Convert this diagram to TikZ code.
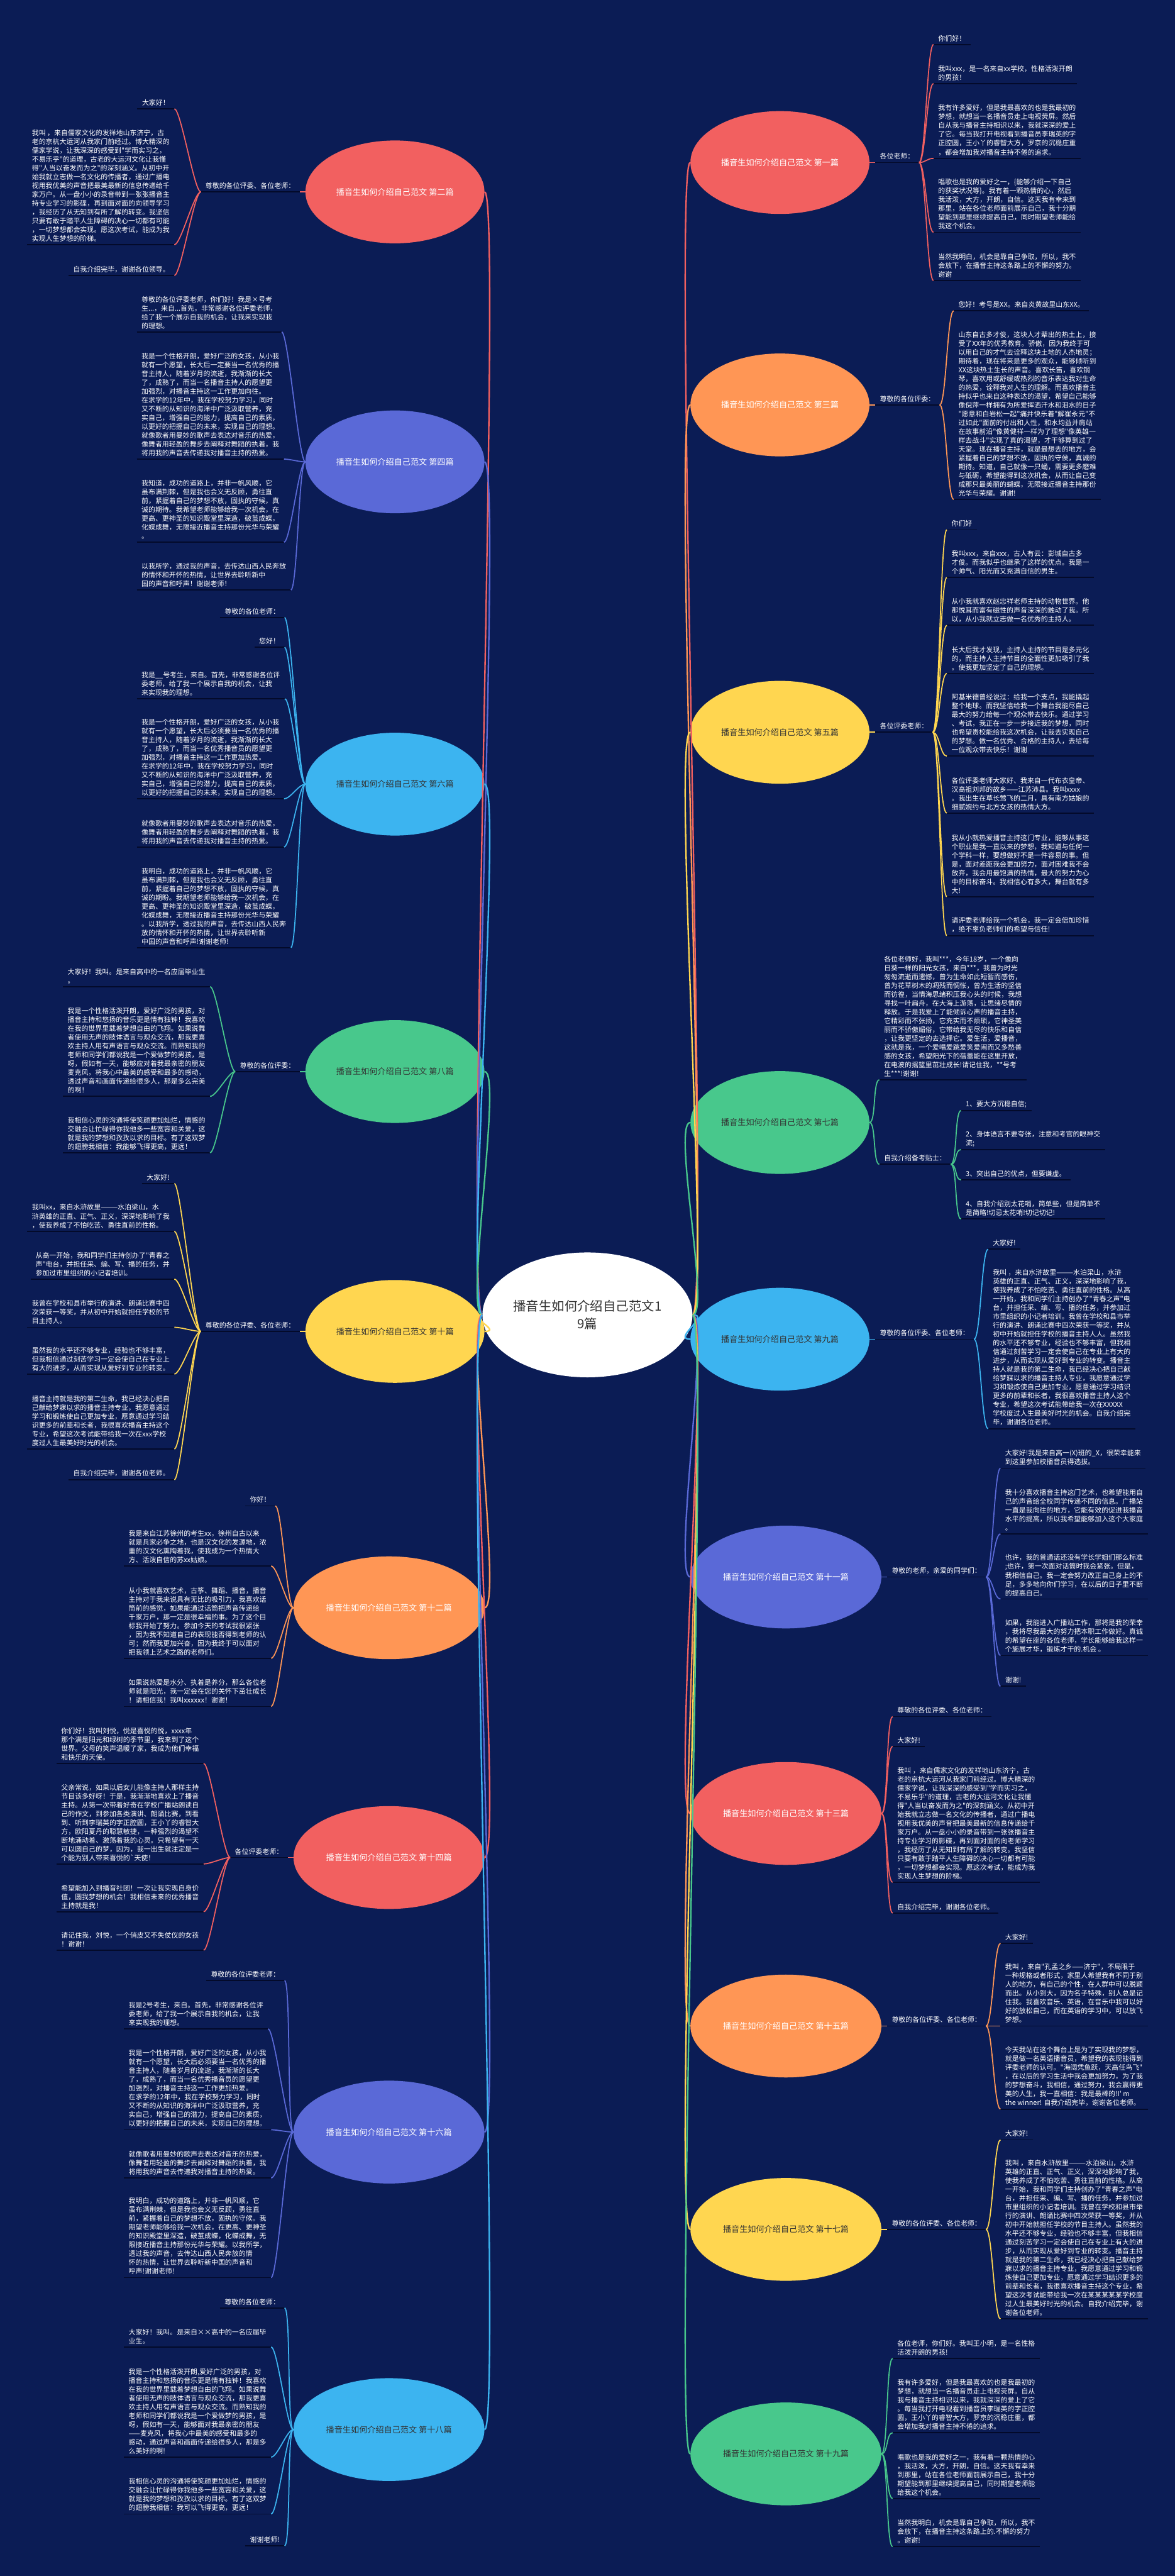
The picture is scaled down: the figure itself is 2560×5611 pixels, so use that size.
\documentclass[tikz,border=0pt]{standalone}
\usepackage{fontspec}
\newfontfamily\cjk{Noto Sans CJK SC}
\XeTeXlinebreaklocale "zh"
\usetikzlibrary{shapes.geometric,positioning,calc}
\definecolor{bgnavy}{RGB}{11,28,85}
\definecolor{ulinecol}{RGB}{3,10,42}
\definecolor{cred}{RGB}{242,96,96}
\definecolor{corange}{RGB}{255,150,85}
\definecolor{cyellow}{RGB}{255,214,80}
\definecolor{cgreen}{RGB}{72,200,140}
\definecolor{cblue}{RGB}{60,180,240}
\definecolor{cindigo}{RGB}{90,105,215}
\definecolor{darktext}{RGB}{51,51,51}

\begin{document}
\begin{tikzpicture}[x=0.5pt, y=-0.5pt,
    hub/.style={ellipse, fill=white, minimum width=217pt, minimum height=136pt,
                inner sep=0pt, align=center, text=darktext,
                font=\cjk\fontsize{14}{19}\selectfont},
    pian/.style={ellipse, fill=#1, minimum height=112pt, inner sep=0pt,
                 font=\cjk\fontsize{9}{11}\selectfont},
    short/.style={minimum width=195pt},
    long/.style={minimum width=208pt},
    uline/.style={draw=ulinecol, line width=1.2pt},
    leaf/.style={inner xsep=5pt, inner ysep=3pt, align=left, text=white,
                 font=\cjk\fontsize{7.5}{9.6}\selectfont,
                 append after command={\pgfextra{\let\leafnode=\tikzlastnode}
                   (\leafnode.south west) edge[uline] (\leafnode.south east)}},
    limb/.style={line width=1.6pt},
    twig/.style={line width=1.2pt},
    rlimb/.style={to path={.. controls +(40,0) and +(-40,0) .. (\tikztotarget)}},
    llimb/.style={to path={.. controls +(-40,0) and +(40,0) .. (\tikztotarget)}},
    rtwig/.style={to path={.. controls +(14,0) and +(-14,0) .. (\tikztotarget)}},
    ltwig/.style={to path={.. controls +(-14,0) and +(14,0) .. (\tikztotarget)}},
]
\useasboundingbox (0,0) rectangle (2560,5611);
\fill[bgnavy] (0,0) rectangle (2560,5611);

% centre
\node[hub] (hub) at (1280,2864) {播音生如何介绍自己范文1\\9篇};

% branches on the right
\node[pian=cred, short, text=white, anchor=west] (p1) at (1504,354) {播音生如何介绍自己范文 第一篇};
\node[pian=corange, short, text=white, anchor=west] (p3) at (1504,882) {播音生如何介绍自己范文 第三篇};
\node[pian=cyellow, short, text=darktext, anchor=west] (p5) at (1504,1595) {播音生如何介绍自己范文 第五篇};
\node[pian=cgreen, short, text=darktext, anchor=west] (p7) at (1504,2445) {播音生如何介绍自己范文 第七篇};
\node[pian=cblue, short, text=darktext, anchor=west] (p9) at (1504,2917) {播音生如何介绍自己范文 第九篇};
\node[pian=cindigo, long, text=white, anchor=west] (p11) at (1504,3435) {播音生如何介绍自己范文 第十一篇};
\node[pian=cred, long, text=white, anchor=west] (p13) at (1504,3950) {播音生如何介绍自己范文 第十三篇};
\node[pian=corange, long, text=white, anchor=west] (p15) at (1504,4413) {播音生如何介绍自己范文 第十五篇};
\node[pian=cyellow, long, text=darktext, anchor=west] (p17) at (1504,4856) {播音生如何介绍自己范文 第十七篇};
\node[pian=cgreen, long, text=darktext, anchor=west] (p19) at (1504,5345) {播音生如何介绍自己范文 第十九篇};

% branches on the left
\node[pian=cred, short, text=white, anchor=east] (p2) at (1056,418) {播音生如何介绍自己范文 第二篇};
\node[pian=cindigo, short, text=white, anchor=east] (p4) at (1056,1006) {播音生如何介绍自己范文 第四篇};
\node[pian=cblue, short, text=darktext, anchor=east] (p6) at (1056,1708) {播音生如何介绍自己范文 第六篇};
\node[pian=cgreen, short, text=darktext, anchor=east] (p8) at (1056,2334) {播音生如何介绍自己范文 第八篇};
\node[pian=cyellow, short, text=darktext, anchor=east] (p10) at (1056,2900) {播音生如何介绍自己范文 第十篇};
\node[pian=corange, long, text=white, anchor=east] (p12) at (1056,3502) {播音生如何介绍自己范文 第十二篇};
\node[pian=cred, long, text=white, anchor=east] (p14) at (1056,4046) {播音生如何介绍自己范文 第十四篇};
\node[pian=cindigo, long, text=white, anchor=east] (p16) at (1056,4644) {播音生如何介绍自己范文 第十六篇};
\node[pian=cblue, long, text=darktext, anchor=east] (p18) at (1056,5292) {播音生如何介绍自己范文 第十八篇};

% limbs from the centre
\foreach \n/\c in {p1/cred,p3/corange,p5/cyellow,p7/cgreen,p9/cblue,p11/cindigo,
                   p13/cred,p15/corange,p17/cyellow,p19/cgreen}
  \draw[limb,\c] (hub.east) to[rlimb] (\n.west);
\foreach \n/\c in {p2/cred,p4/cindigo,p6/cblue,p8/cgreen,p10/cyellow,p12/corange,
                   p14/cred,p16/cindigo,p18/cblue}
  \draw[limb,\c] (hub.west) to[llimb] (\n.east);

% ---------- 第一篇
\node[leaf, anchor=south west] (p1lab) at ($(p1.east)+(12,0)$) {各位老师：};
\node[leaf, anchor=south west] (p1a) at (2034,97) {你们好！};
\node[leaf, anchor=south west] (p1b) at (2034,182) {我叫xxx，是一名来自xx学校，性格活泼开朗\\的男孩！};
\node[leaf, anchor=south west] (p1c) at (2034,345) {我有许多爱好，但是我最喜欢的也是我最初的\\梦想，就想当一名播音员走上电视荧屏。然后\\自从我与播音主持相识以来，我就深深的爱上\\了它。每当我打开电视看到播音员李瑞英的字\\正腔圆，王小丫的睿智大方，罗京的沉稳庄重\\，都会增加我对播音主持不倦的追求。};
\node[leaf, anchor=south west] (p1d) at (2034,506) {唱歌也是我的爱好之一，\{能够介绍一下自己\\的获奖状况等\}。我有着一颗热情的心，然后\\我活泼，大方，开朗，自信。这天我有幸来到\\那里，站在各位老师面前展示自己，我十分期\\望能到那里继续提高自己，同时期望老师能给\\我这个机会。};
\node[leaf, anchor=south west] (p1e) at (2034,611) {当然我明白，机会是靠自己争取，所以，我不\\会放下，在播音主持这条路上的不懈的努力。\\谢谢};
\draw[twig,cred] (p1.east) -- (p1lab.south west);
\foreach \k in {a,b,c,d,e}
  \draw[twig,cred] (p1lab.south east) to[rtwig] (p1\k.south west);

% ---------- 第三篇
\node[leaf, anchor=south west] (p3lab) at ($(p3.east)+(12,0)$) {尊敬的各位评委：};
\node[leaf, anchor=south west] (p3a) at (2078,677) {您好！考号是XX。来自炎黄故里山东XX。};
\node[leaf, anchor=south west] (p3b) at (2078,1088) {山东自古多才俊，这块人才辈出的热土上，接\\受了XX年的优秀教育。骄傲，因为我终于可\\以用自己的才气去诠释这块土地的人杰地灵；\\期待着，现在将来是更多的观众，能够倾听到\\XX这块热土生长的声音。喜欢长笛，喜欢钢\\琴，喜欢用或舒缓或热烈的音乐表达我对生命\\的热爱，诠释我对人生的理解。而喜欢播音主\\持似乎也来自这种表达的渴望，希望自己能够\\像倪萍一样拥有为所爱挥洒汗水和泪水的日子\\"愿意和白岩松一起"痛并快乐着"解崔永元"不\\过如此"面前的付出和人性，和水均益并肩站\\在故事前沿"像黄健祥一样为了理想"像英雄一\\样去战斗"实现了真的渴望，才干够算到过了\\天堂。现在播音主持，就是最想去的地方，会\\紧握着自己的梦想不放，固执的守侯，真诚的\\期待。知道，自己就像一只蛹，需要更多磨难\\与砥砺，希望能得到这次机会，从而让自己变\\成那只最美丽的蝴蝶，无限接近播音主持那份\\光华与荣耀。谢谢!};
\draw[twig,corange] (p3.east) -- (p3lab.south west);
\foreach \k in {a,b}
  \draw[twig,corange] (p3lab.south east) to[rtwig] (p3\k.south west);

% ---------- 第五篇
\node[leaf, anchor=south west] (p5lab) at ($(p5.east)+(12,0)$) {各位评委老师：};
\node[leaf, anchor=south west] (p5a) at (2063,1154) {你们好};
\node[leaf, anchor=south west] (p5b) at (2063,1258) {我叫xxx，来自xxx，古人有云：彭城自古多\\才俊。而我似乎也继承了这样的优点。我是一\\个帅气、阳光而又充满自信的男生。};
\node[leaf, anchor=south west] (p5c) at (2063,1362) {从小我就喜欢赵忠祥老师主持的动物世界。他\\那悦耳而富有磁性的声音深深的触动了我。所\\以，从小我就立志做一名优秀的主持人。};
\node[leaf, anchor=south west] (p5d) at (2063,1467) {长大后我才发现，主持人主持的节目是多元化\\的，而主持人主持节目的全面性更加吸引了我\\。使我更加坚定了自己的理想。};
\node[leaf, anchor=south west] (p5e) at (2063,1647) {阿基米德曾经说过：给我一个支点，我能撬起\\整个地球。而我坚信给我一个舞台我能尽自己\\最大的努力给每一个观众带去快乐。通过学习\\、考试，我正在一步一步接近我的梦想，同时\\也希望贵校能给我这次机会，让我去实现自己\\的梦想。做一名优秀、合格的主持人，去给每\\一位观众带去快乐！谢谢};
\node[leaf, anchor=south west] (p5f) at (2063,1771) {各位评委老师大家好、我来自一代布衣皇帝、\\汉高祖刘邦的故乡——江苏沛县。我叫xxxx\\。我出生在草长莺飞的二月，具有南方姑娘的\\细腻婉约与北方女孩的热情大方。};
\node[leaf, anchor=south west] (p5g) at (2063,1953) {我从小就热爱播音主持这门专业，能够从事这\\个职业是我一直以来的梦想，我知道与任何一\\个学科一样，要想做好不是一件容易的事。但\\是，面对差距我会更加努力，面对困难我不会\\放弃，我会用最饱满的热情，最大的努力为心\\中的目标奋斗。我相信心有多大，舞台就有多\\大!};
\node[leaf, anchor=south west] (p5h) at (2063,2038) {请评委老师给我一个机会，我一定会倍加珍惜\\，绝不辜负老师们的希望与信任!};
\draw[twig,cyellow] (p5.east) -- (p5lab.south west);
\foreach \k in {a,b,c,d,e,f,g,h}
  \draw[twig,cyellow] (p5lab.south east) to[rtwig] (p5\k.south west);

% ---------- 第七篇
\node[leaf, anchor=south west] (p7a) at (1916,2352) {各位老师好，我叫***，今年18岁，一个像向\\日葵一样的阳光女孩，来自***，我曾为时光\\匆匆流逝而遗憾，曾为生命如此短暂而感伤，\\曾为花草树木的凋残而惆怅，曾为生活的坚信\\而彷徨，当情海思绪积压我心头的时候，我想\\寻找一叶扁舟，在大海上游荡，让思绪尽情的\\释放。于是我爱上了能倾诉心声的播音主持，\\它精彩而不张扬，它充实而不烦琐，它神圣美\\丽而不骄傲媚俗，它带给我无尽的快乐和自信\\，让我更坚定的去选择它。爱生活，爱播音，\\这就是我，一个爱唱爱跳爱笑爱闹而又多愁善\\感的女孩，希望阳光下的蓓蕾能在这里开放，\\在电波的摇篮里茁壮成长!请记住我，**号考\\生***!谢谢!};
\node[leaf, anchor=south west] (p7b) at (1916,2536) {自我介绍备考贴士：};
\node[leaf, anchor=south west] (p7b1) at (2094,2419) {1、要大方沉稳自信;};
\node[leaf, anchor=south west] (p7b2) at (2094,2504) {2、身体语言不要夸张，注意和考官的眼神交\\流;};
\node[leaf, anchor=south west] (p7b3) at (2094,2570) {3、突出自己的优点，但要谦虚。};
\node[leaf, anchor=south west] (p7b4) at (2094,2655) {4、自我介绍别太花哨，简单些，但是简单不\\是简略!切忌太花哨!切记切记!};
\foreach \k in {a,b}
  \draw[twig,cgreen] (p7.east) to[rtwig] (p7\k.south west);
\foreach \k in {1,2,3,4}
  \draw[twig,cgreen] (p7b.south east) to[rtwig] (p7b\k.south west);

% ---------- 第九篇
\node[leaf, anchor=south west] (p9lab) at ($(p9.east)+(12,0)$) {尊敬的各位评委、各位老师：};
\node[leaf, anchor=south west] (p9a) at (2153,2721) {大家好!};
\node[leaf, anchor=south west] (p9b) at (2153,3112) {我叫 ，来自水浒故里———水泊梁山，水浒\\英雄的正直、正气、正义，深深地影响了我，\\使我养成了不怕吃苦、勇往直前的性格。从高\\一开始，我和同学们主持创办了"青春之声"电\\台，并担任采、编、写、播的任务，并参加过\\市里组织的小记者培训。我曾在学校和县市举\\行的演讲、朗诵比赛中四次荣获一等奖，并从\\初中开始就担任学校的播音主持人人。虽然我\\的水平还不够专业，经验也不够丰富，但我相\\信通过刻苦学习一定会使自己在专业上有大的\\进步，从而实现从爱好到专业的转变。播音主\\持人就是我的第二生命，我已经决心把自己献\\给梦寐以求的播音主持人专业，我愿意通过学\\习和锻炼使自己更加专业，愿意通过学习结识\\更多的前辈和长者，我很喜欢播音主持人这个\\专业，希望这次考试能带给我一次在XXXXX\\学校度过人生最美好时光的机会。自我介绍完\\毕，谢谢各位老师。};
\draw[twig,cblue] (p9.east) -- (p9lab.south west);
\foreach \k in {a,b}
  \draw[twig,cblue] (p9lab.south east) to[rtwig] (p9\k.south west);

% ---------- 第十一篇
\node[leaf, anchor=south west] (p11lab) at ($(p11.east)+(12,0)$) {尊敬的老师，亲爱的同学们：};
\node[leaf, anchor=south west] (p11a) at (2180,3198) {大家好!我是来自高一(X)班的\_X，很荣幸能来\\到这里参加校播音员得选拔。};
\node[leaf, anchor=south west] (p11b) at (2180,3341) {我十分喜欢播音主持这门艺术，也希望能用自\\己的声音给全校同学传递不同的信息。广播站\\一直是我向往的地方，它能有效的促进我播音\\水平的提高，所以我希望能够加入这个大家庭\\。};
\node[leaf, anchor=south west] (p11c) at (2180,3483) {也许，我的普通话还没有学长学姐们那么标准\\;也许，第一次面对话筒时我会紧张。但是，\\我相信自己。我一定会努力改正自己身上的不\\足，多多地向你们学习，在以后的日子里不断\\的提高自己。};
\node[leaf, anchor=south west] (p11d) at (2180,3606) {如果，我能进入广播站工作，那将是我的荣幸\\，我将尽我最大的努力把本职工作做好。真诚\\的希望在座的各位老师，学长能够给我这样一\\个施展才华，锻炼才干的.机会 。};
\node[leaf, anchor=south west] (p11e) at (2180,3673) {谢谢!};
\draw[twig,cindigo] (p11.east) -- (p11lab.south west);
\foreach \k in {a,b,c,d,e}
  \draw[twig,cindigo] (p11lab.south east) to[rtwig] (p11\k.south west);

% ---------- 第十三篇
\node[leaf, anchor=south west] (p13a) at (1945,3739) {尊敬的各位评委、各位老师：};
\node[leaf, anchor=south west] (p13b) at (1945,3804) {大家好!};
\node[leaf, anchor=south west] (p13c) at (1945,4100) {我叫 ，来自儒家文化的发祥地山东济宁，古\\老的京杭大运河从我家门前经过。博大精深的\\儒家学说，让我深深的感受到"学而实习之，\\不易乐乎"的道理，古老的大运河文化让我懂\\得"人当以奋发而为之"的深刻涵义。从初中开\\始我就立志做一名文化的传播者，通过广播电\\视用我优美的声音把最美最新的信息传递给千\\家万户。从一盘小小的录音带到一张张播音主\\持专业学习的影碟，再到面对面的向老师学习\\，我经历了从无知到有所了解的转变。我坚信\\只要有敢于踏平人生障碍的决心一切都有可能\\，一切梦想都会实现。愿这次考试，能成为我\\实现人生梦想的阶梯。};
\node[leaf, anchor=south west] (p13d) at (1945,4167) {自我介绍完毕，谢谢各位老师。};
\foreach \k in {a,b,c,d}
  \draw[twig,cred] (p13.east) to[rtwig] (p13\k.south west);

% ---------- 第十五篇
\node[leaf, anchor=south west] (p15lab) at ($(p15.east)+(12,0)$) {尊敬的各位评委、各位老师：};
\node[leaf, anchor=south west] (p15a) at (2180,4233) {大家好!};
\node[leaf, anchor=south west] (p15b) at (2180,4413) {我叫 ，来自"孔孟之乡——济宁"，不局限于\\一种规格或者形式，家里人希望我有不同于别\\人的地方，有自己的个性，在人群中可以脱颖\\而出。从小到大，因为名子特殊，别人总是记\\住我。我喜欢音乐、英语，在音乐中我可以好\\好的放松自己，而在英语的学习中，可以放飞\\梦想。};
\node[leaf, anchor=south west] (p15c) at (2180,4594) {今天我站在这个舞台上是为了实现我的梦想，\\就是做一名英语播音员，希望我的表现能得到\\评委老师的认可。"海阔凭鱼跃，天高任鸟飞"\\，在以后的学习生活中我会更加努力，为了我\\的梦想奋斗，我相信，通过努力，我会赢得更\\美的人生，我一直相信：我是最棒的!I' m\\the winner! 自我介绍完毕，谢谢各位老师。};
\draw[twig,corange] (p15.east) -- (p15lab.south west);
\foreach \k in {a,b,c}
  \draw[twig,corange] (p15lab.south east) to[rtwig] (p15\k.south west);

% ---------- 第十七篇
\node[leaf, anchor=south west] (p17lab) at ($(p17.east)+(12,0)$) {尊敬的各位评委、各位老师：};
\node[leaf, anchor=south west] (p17a) at (2180,4661) {大家好!};
\node[leaf, anchor=south west] (p17b) at (2180,5051) {我叫 ，来自水浒故里———水泊梁山，水浒\\英雄的正直、正气、正义，深深地影响了我，\\使我养成了不怕吃苦、勇往直前的性格。从高\\一开始，我和同学们主持创办了"青春之声"电\\台，并担任采、编、写、播的任务，并参加过\\市里组织的小记者培训。我曾在学校和县市举\\行的演讲、朗诵比赛中四次荣获一等奖，并从\\初中开始就担任学校的节目主持人。虽然我的\\水平还不够专业，经验也不够丰富，但我相信\\通过刻苦学习一定会使自己在专业上有大的进\\步，从而实现从爱好到专业的转变。播音主持\\就是我的第二生命，我已经决心把自己献给梦\\寐以求的播音主持专业，我愿意通过学习和锻\\炼使自己更加专业，愿意通过学习结识更多的\\前辈和长者，我很喜欢播音主持这个专业，希\\望这次考试能带给我一次在某某某某某学校度\\过人生最美好时光的机会。自我介绍完毕，谢\\谢各位老师。};
\draw[twig,cyellow] (p17.east) -- (p17lab.south west);
\foreach \k in {a,b}
  \draw[twig,cyellow] (p17lab.south east) to[rtwig] (p17\k.south west);

% ---------- 第十九篇
\node[leaf, anchor=south west] (p19a) at (1945,5137) {各位老师，你们好。我叫王小明，是一名性格\\活泼开朗的男孩!};
\node[leaf, anchor=south west] (p19b) at (1945,5299) {我有许多爱好，但是我最喜欢的也是我最初的\\梦想，就想当一名播音员走上电视荧屏。自从\\我与播音主持相识以来，我就深深的爱上了它\\。每当我打开电视看到播音员李瑞英的字正腔\\圆，王小丫的睿智大方，罗京的沉稳庄重，都\\会增加我对播音主持不倦的追求。};
\node[leaf, anchor=south west] (p19c) at (1945,5442) {唱歌也是我的爱好之一，我有着一颗热情的心\\，我活泼，大方，开朗，自信。这天我有幸来\\到那里，站在各位老师面前展示自己，我十分\\期望能到那里继续提高自己，同时期望老师能\\给我这个机会。};
\node[leaf, anchor=south west] (p19d) at (1945,5547) {当然我明白，机会是靠自己争取，所以，我不\\会放下，在播音主持这条路上的.不懈的努力\\。谢谢!};
\foreach \k in {a,b,c,d}
  \draw[twig,cgreen] (p19.east) to[rtwig] (p19\k.south west);

% ---------- 第二篇
\node[leaf, anchor=south east] (p2lab) at ($(p2.west)+(-12,0)$) {尊敬的各位评委、各位老师：};
\node[leaf, anchor=south east] (p2a) at (380,237) {大家好！};
\node[leaf, anchor=south east] (p2b) at (380,533) {我叫 ，来自儒家文化的发祥地山东济宁，古\\老的京杭大运河从我家门前经过。博大精深的\\儒家学说，让我深深的感受到"学而实习之，\\不易乐乎"的道理，古老的大运河文化让我懂\\得"人当以奋发而为之"的深刻涵义。从初中开\\始我就立志做一名文化的传播者，通过广播电\\视用我优美的声音把最美最新的信息传递给千\\家万户。从一盘小小的录音带到一张张播音主\\持专业学习的影碟，再到面对面的向领导学习\\，我经历了从无知到有所了解的转变。我坚信\\只要有敢于踏平人生障碍的决心一切都有可能\\，一切梦想都会实现。愿这次考试，能成为我\\实现人生梦想的阶梯。};
\node[leaf, anchor=south east] (p2c) at (380,600) {自我介绍完毕，谢谢各位领导。};
\draw[twig,cred] (p2.west) -- (p2lab.south east);
\foreach \k in {a,b,c}
  \draw[twig,cred] (p2lab.south west) to[ltwig] (p2\k.south east);

% ---------- 第四篇
\node[leaf, anchor=south west] (p4a) at (298,723) {尊敬的各位评委老师，你们好！我是×号考\\生...，来自...首先，非常感谢各位评委老师，\\给了我一个展示自我的机会，让我来实现我\\的理想。};
\node[leaf, anchor=south west] (p4b) at (298,1000) {我是一个性格开朗，爱好广泛的女孩，从小我\\就有一个愿望，长大后一定要当一名优秀的播\\音主持人，随着岁月的流逝，我渐渐的长大\\了，成熟了，而当一名播音主持人的愿望更\\加强烈，对播音主持这一工作更加向往。\\在求学的12年中，我在学校努力学习，同时\\又不断的从知识的海洋中广泛汲取营养，充\\实自己，增强自己的能力，提高自己的素质，\\以更好的把握自己的未来，实现自己的理想。\\就像歌者用曼妙的歌声去表达对音乐的热爱，\\像舞者用轻盈的舞步去阐释对舞蹈的执着，我\\将用我的声音去传递我对播音主持的热爱。};
\node[leaf, anchor=south west] (p4c) at (298,1181) {我知道，成功的道路上，并非一帆风顺，它\\虽布满荆棘，但是我也会义无反顾，勇往直\\前，紧握着自己的梦想不放，固执的守候，真\\诚的期待。我希望老师能够给我一次机会，在\\更高、更神圣的知识殿堂里深造，破茧成蝶，\\化蝶成舞，无限接近播音主持那份光华与荣耀\\。};
\node[leaf, anchor=south west] (p4d) at (298,1285) {以我所学，通过我的声音，去传达山西人民奔放\\的情怀和开怀的热情，让世界去聆听新中\\国的声音和呼声！谢谢老师！};
\foreach \k in {a,b,c,d}
  \draw[twig,cindigo] (p4.west) to[ltwig] (p4\k.south east);

% ---------- 第六篇
\node[leaf, anchor=south east] (p6a) at (620,1345) {尊敬的各位老师：};
\node[leaf, anchor=south east] (p6b) at (620,1410) {您好！};
\node[leaf, anchor=south west] (p6c) at (298,1522) {我是\_\_号考生，来自。首先，非常感谢各位评\\委老师，给了我一个展示自我的机会，让我\\来实现我的理想。};
\node[leaf, anchor=south west] (p6d) at (298,1740) {我是一个性格开朗，爱好广泛的女孩，从小我\\就有一个愿望，长大后必须要当一名优秀的播\\音主持人，随着岁月的流逝，我渐渐的长大\\了，成熟了，而当一名优秀播音员的愿望更\\加强烈，对播音主持这一工作更加热爱。\\在求学的12年中，我在学校努力学习，同时\\又不断的从知识的海洋中广泛汲取营养，充\\实自己，增强自己的潜力，提高自己的素质，\\以更好的把握自己的未来，实现自己的理想。};
\node[leaf, anchor=south west] (p6e) at (298,1845) {就像歌者用曼妙的歌声去表达对音乐的热爱，\\像舞者用轻盈的舞步去阐释对舞蹈的执着，我\\将用我的声音去传递我对播音主持的热爱。};
\node[leaf, anchor=south west] (p6f) at (298,2064) {我明白，成功的道路上，并非一帆风顺，它\\虽布满荆棘，但是我也会义无反顾，勇往直\\前，紧握着自己的梦想不放，固执的守候，真\\诚的期盼。我期望老师能够给我一次机会，在\\更高、更神圣的知识殿堂里深造，破茧成蝶，\\化蝶成舞，无限接近播音主持那份光华与荣耀\\。以我所学，透过我的声音，去传达山西人民奔\\放的情怀和开怀的热情，让世界去聆听新\\中国的声音和呼声!谢谢老师!};
\foreach \k in {a,b,c,d,e,f}
  \draw[twig,cblue] (p6.west) to[ltwig] (p6\k.south east);

% ---------- 第八篇
\node[leaf, anchor=south east] (p8lab) at ($(p8.west)+(-12,0)$) {尊敬的各位评委：};
\node[leaf, anchor=south west] (p8a) at (137,2149) {大家好！我叫。是来自高中的一名应届毕业生\\。};
\node[leaf, anchor=south west] (p8b) at (137,2388) {我是一个性格活泼开朗，爱好广泛的男孩，对\\播音主持和悠扬的音乐更是情有独钟！我喜欢\\在我的世界里载着梦想自由的飞翔。如果说舞\\者使用无声的肢体语言与观众交流，那我更喜\\欢主持人用有声语言与观众交流。而熟知我的\\老师和同学们都说我是一个爱做梦的男孩，是\\呀，假如有一天，能够应对着我最亲密的朋友\\麦克风，将我心中最美的感受和最多的感动，\\透过声音和画面传递给很多人，那是多么完美\\的啊！};
\node[leaf, anchor=south west] (p8c) at (137,2511) {我相信心灵的沟通将使笑颜更加灿烂，情感的\\交融会让忙碌得你我他多一些宽容和关爱，这\\就是我的梦想和孜孜以求的目标。有了这双梦\\的翅膀我相信：我能够飞得更高，更远！};
\draw[twig,cgreen] (p8.west) -- (p8lab.south east);
\foreach \k in {a,b,c}
  \draw[twig,cgreen] (p8lab.south west) to[ltwig] (p8\k.south east);

% ---------- 第十篇
\node[leaf, anchor=south east] (p10lab) at ($(p10.west)+(-12,0)$) {尊敬的各位评委、各位老师：};
\node[leaf, anchor=south east] (p10a) at (380,2578) {大家好!};
\node[leaf, anchor=south east] (p10b) at (380,2682) {我叫xx，来自水浒故里———水泊梁山，水\\浒英雄的正直、正气、正义，深深地影响了我\\，使我养成了不怕吃苦、勇往直前的性格。};
\node[leaf, anchor=south east] (p10c) at (380,2786) {从高一开始，我和同学们主持创办了"青春之\\声"电台，并担任采、编、写、播的任务，并\\参加过市里组织的小记者培训。};
\node[leaf, anchor=south east] (p10d) at (380,2891) {我曾在学校和县市举行的演讲、朗诵比赛中四\\次荣获一等奖，并从初中开始就担任学校的节\\目主持人。};
\node[leaf, anchor=south east] (p10e) at (380,2993) {虽然我的水平还不够专业，经验也不够丰富，\\但我相信通过刻苦学习一定会使自己在专业上\\有大的进步，从而实现从爱好到专业的转变。};
\node[leaf, anchor=south east] (p10f) at (380,3156) {播音主持就是我的第二生命，我已经决心把自\\己献给梦寐以求的播音主持专业，我愿意通过\\学习和锻炼使自己更加专业，愿意通过学习结\\识更多的前辈和长者，我很喜欢播音主持这个\\专业，希望这次考试能带给我一次在xxx学校\\度过人生最美好时光的机会。};
\node[leaf, anchor=south east] (p10g) at (380,3223) {自我介绍完毕，谢谢各位老师。};
\draw[twig,cyellow] (p10.west) -- (p10lab.south east);
\foreach \k in {a,b,c,d,e,f,g}
  \draw[twig,cyellow] (p10lab.south west) to[ltwig] (p10\k.south east);

% ---------- 第十二篇
\node[leaf, anchor=south east] (p12a) at (600,3280) {你好！};
\node[leaf, anchor=south west] (p12b) at (270,3411) {我是来自江苏徐州的考生xx，徐州自古以来\\就是兵家必争之地，也是汉文化的发源地，浓\\重的汉文化熏陶着我，使我成为一个热情大\\方、活泼自信的苏xx姑娘。};
\node[leaf, anchor=south west] (p12c) at (270,3612) {从小我就喜欢艺术，古筝、舞蹈、播音，播音\\主持对于我来说具有无比的吸引力，我喜欢话\\筒前的感觉，如果能通过话筒把声音传递给\\千家万户，那一定是很幸福的事。为了这个目\\标我开始了努力。参加今天的考试我很紧张\\，因为我不知道自己的表现能否得到老师的认\\可；然而我更加兴奋，因为我终于可以面对\\把我领上艺术之路的老师们。};
\node[leaf, anchor=south west] (p12d) at (270,3717) {如果说热爱是水分、执着是养分，那么各位老\\师就是阳光，我一定会在您的关怀下茁壮成长\\！请相信我！我叫xxxxxx！谢谢！};
\foreach \k in {a,b,c,d}
  \draw[twig,corange] (p12.west) to[ltwig] (p12\k.south east);

% ---------- 第十四篇
\node[leaf, anchor=south east] (p14lab) at ($(p14.west)+(-12,0)$) {各位评委老师：};
\node[leaf, anchor=south west] (p14a) at (123,3841) {你们好！我叫刘悦，悦是喜悦的悦，xxxx年\\那个满是阳光和绿树的季节里，我来到了这个\\世界。父母的笑声温暖了家，我成为他们幸福\\和快乐的天使。};
\node[leaf, anchor=south west] (p14b) at (123,4060) {父亲常说，如果以后女儿能像主持人那样主持\\节目该多好呀！于是，我渐渐地喜欢上了播音\\主持。从第一次带着好奇在学校广播站朗读自\\己的作文，到参加各类演讲、朗诵比赛，到看\\到、听到李瑞英的字正腔圆，王小丫的睿智大\\方，欧阳夏丹的聪慧敏捷，一种强烈的渴望不\\断地涌动着、激荡着我的心灵。只希望有一天\\可以圆自己的梦，因为，我一出生就注定是一\\个能为别人带来喜悦的`天使！};
\node[leaf, anchor=south west] (p14c) at (123,4164) {希望能加入到播音社团！一次让我实现自身价\\值，圆我梦想的机会！我相信未来的优秀播音\\主持就是我！};
\node[leaf, anchor=south west] (p14d) at (123,4248) {请记住我，刘悦，一个俏皮又不失仗仪的女孩\\！谢谢！};
\draw[twig,cred] (p14.west) -- (p14lab.south east);
\foreach \k in {a,b,c,d}
  \draw[twig,cred] (p14lab.south west) to[ltwig] (p14\k.south east);

% ---------- 第十六篇
\node[leaf, anchor=south east] (p16a) at (620,4314) {尊敬的各位评委老师：};
\node[leaf, anchor=south west] (p16b) at (270,4419) {我是2号考生，来自。首先，非常感谢各位评\\委老师，给了我一个展示自我的机会，让我\\来实现我的理想。};
\node[leaf, anchor=south west] (p16c) at (270,4639) {我是一个性格开朗，爱好广泛的女孩，从小我\\就有一个愿望，长大后必须要当一名优秀的播\\音主持人，随着岁月的流逝，我渐渐的长大\\了，成熟了，而当一名优秀播音员的愿望更\\加强烈，对播音主持这一工作更加热爱。\\在求学的12年中，我在学校努力学习，同时\\又不断的从知识的海洋中广泛汲取营养，充\\实自己，增强自己的潜力，提高自己的素质，\\以更好的把握自己的未来，实现自己的理想。};
\node[leaf, anchor=south west] (p16d) at (270,4744) {就像歌者用曼妙的歌声去表达对音乐的热爱，\\像舞者用轻盈的舞步去阐释对舞蹈的执着，我\\将用我的声音去传递我对播音主持的热爱。};
\node[leaf, anchor=south west] (p16e) at (270,4961) {我明白，成功的道路上，并非一帆风顺，它\\虽布满荆棘，但是我也会义无反顾，勇往直\\前，紧握着自己的梦想不放，固执的守候。我\\期望老师能够给我一次机会，在更高、更神圣\\的知识殿堂里深造，破茧成蝶，化蝶成舞，无\\限接近播音主持那份光华与荣耀。以我所学，\\透过我的声音，去传达山西人民奔放的情\\怀的热情，让世界去聆听新中国的声音和\\呼声!谢谢老师!};
\foreach \k in {a,b,c,d,e}
  \draw[twig,cindigo] (p16.west) to[ltwig] (p16\k.south east);

% ---------- 第十八篇
\node[leaf, anchor=south east] (p18a) at (620,5027) {尊敬的各位老师：};
\node[leaf, anchor=south west] (p18b) at (270,5112) {大家好！我叫。是来自××高中的一名应届毕\\业生。};
\node[leaf, anchor=south west] (p18c) at (270,5352) {我是一个性格活泼开朗,爱好广泛的男孩，对\\播音主持和悠扬的音乐更是情有独钟！我喜欢\\在我的世界里载着梦想自由的飞翔。如果说舞\\者使用无声的肢体语言与观众交流，那我更喜\\欢主持人用有声语言与观众交流。而熟知我的\\老师和同学们都说我是一个爱做梦的男孩，是\\呀，假如有一天，能够面对我最亲密的朋友\\——麦克风，将我心中最美的感受和最多的\\感动，通过声音和画面传递给很多人，那是多\\么美好的啊!};
\node[leaf, anchor=south west] (p18d) at (270,5476) {我相信心灵的沟通将使笑颜更加灿烂，情感的\\交融会让忙碌得你我他多一些宽容和关爱，这\\就是我的梦想和孜孜以求的目标。有了这双梦\\的翅膀我相信：我可以飞得更高，更远！};
\node[leaf, anchor=south east] (p18e) at (620,5545) {谢谢老师!};
\foreach \k in {a,b,c,d,e}
  \draw[twig,cblue] (p18.west) to[ltwig] (p18\k.south east);

\end{tikzpicture}
\end{document}
